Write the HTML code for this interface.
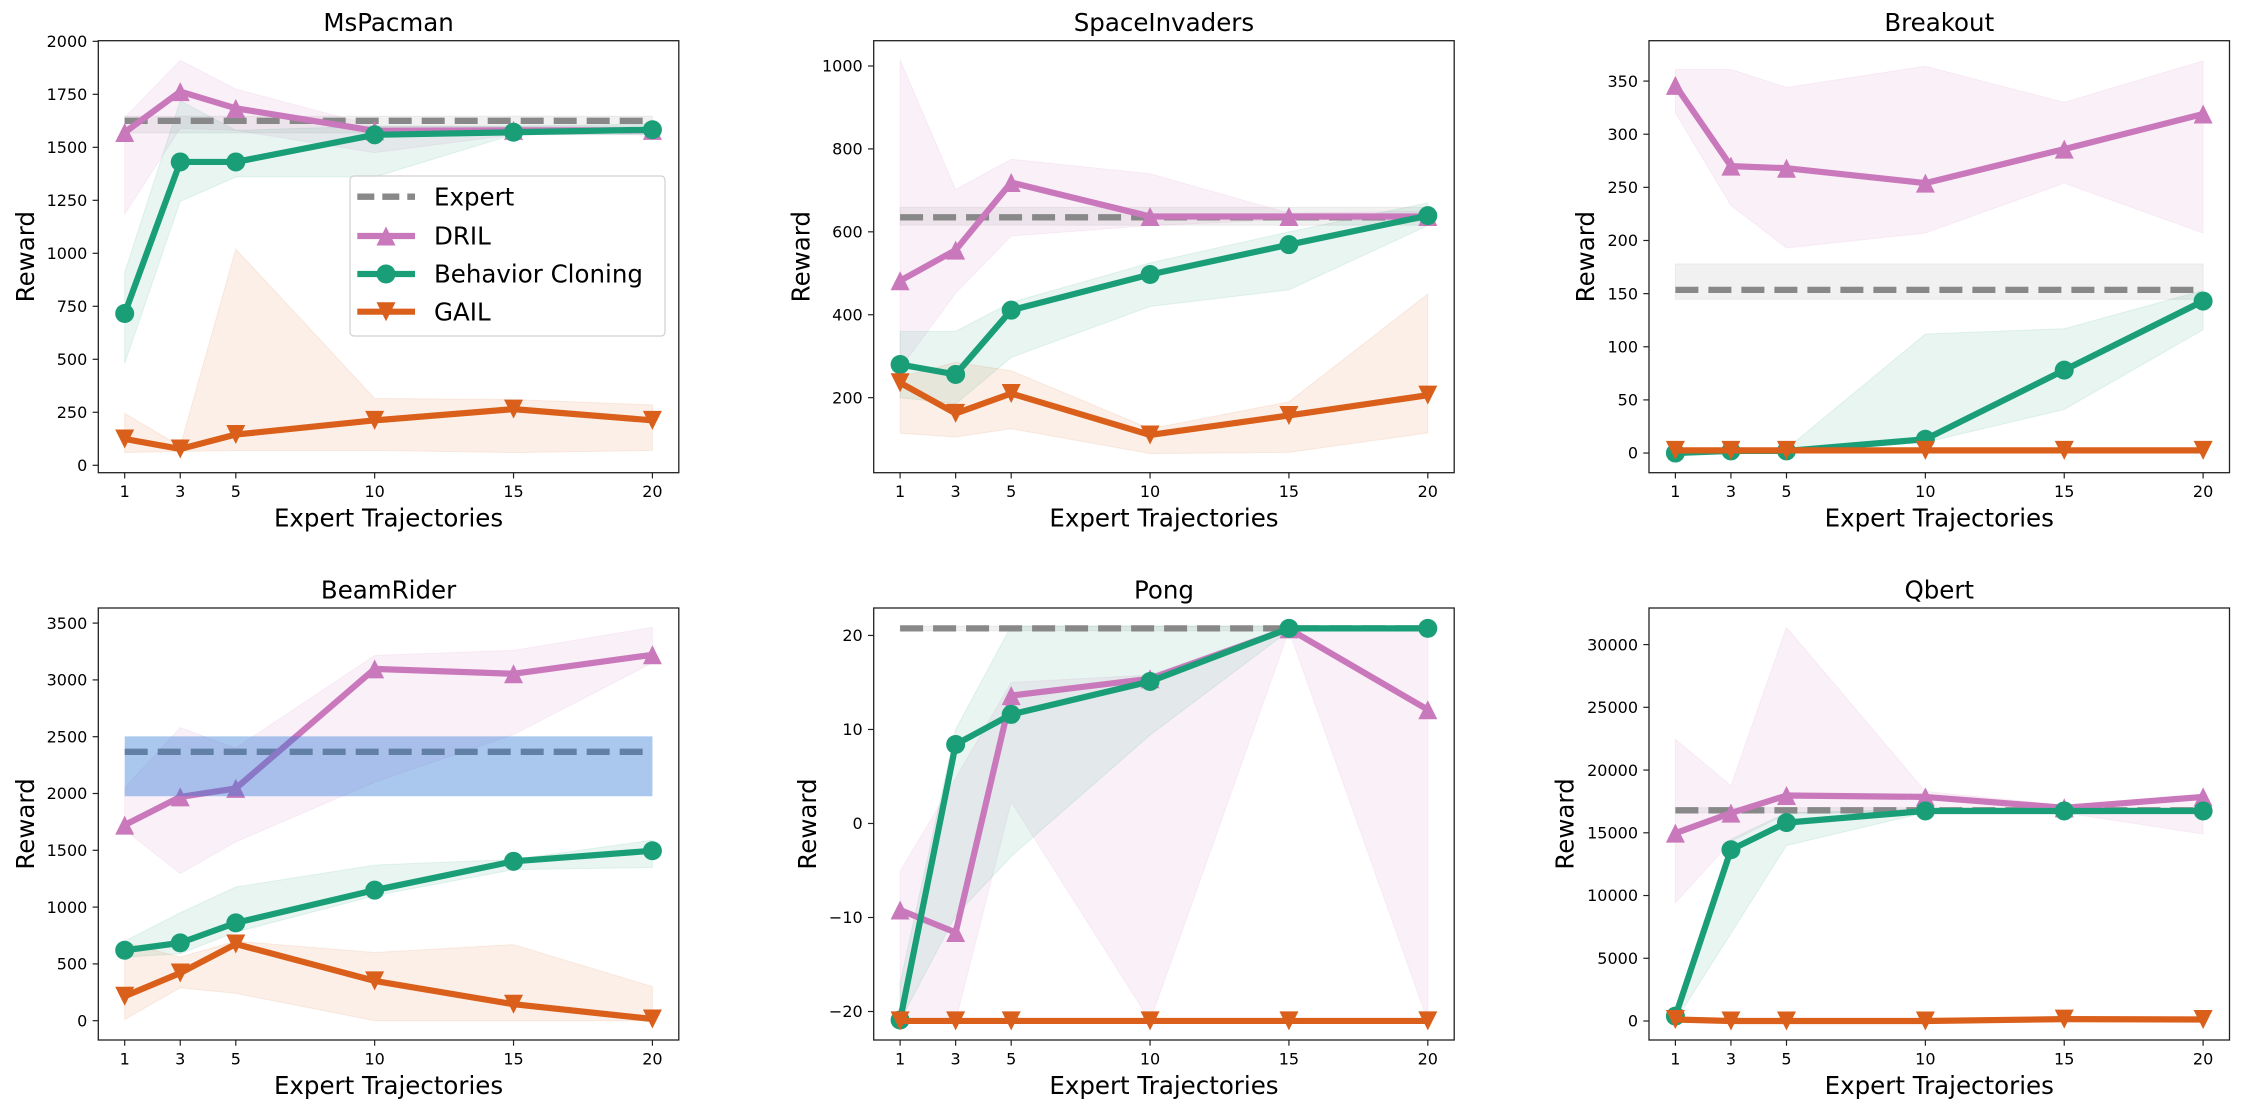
<!DOCTYPE html>
<html><head><meta charset="utf-8">
<style>
html,body{margin:0;padding:0;background:#fff;}
svg{display:block;}
text{font-family:"DejaVu Sans","Liberation Sans",sans-serif;fill:#000;}
</style></head>
<body>
<svg id="fig" width="2242" height="1112" viewBox="0 0 2242 1112"></svg>
<script>
// ---------- data ----------
const xVals=[1,3,5,10,15,20];
const xTickLabels=["1","3","5","10","15","20"];

// MsPacman
const msExpert=[1625,1568,1647];
const msDril=[1570,1763,1684,1578,1580,1580];
const msDrilHi=[1640,1910,1775,1600,1600,1595];
const msDrilLo=[1185,1590,1580,1475,1560,1560];
const msBc=[716,1431,1431,1559,1571,1583];
const msBcHi=[910,1720,1580,1600,1600,1610];
const msBcLo=[480,1245,1360,1360,1560,1560];
const msGail=[124,77,145,212,265,212];
const msGailHi=[245,90,1020,315,310,285];
const msGailLo=[60,65,70,70,60,70];
const msTicks=[0,250,500,750,1000,1250,1500,1750,2000];

// SpaceInvaders
const siExpert=[635,616,659];
const siDril=[482,556,719,637,637,637];
const siDrilHi=[1015,702,775,740,645,650];
const siDrilLo=[270,452,590,615,630,625];
const siBc=[280,256,411,497,569,639];
const siBcHi=[360,360,430,525,600,670];
const siBcLo=[200,185,297,420,460,615];
const siGail=[236,162,210,110,157,206];
const siGailHi=[250,285,265,125,190,450];
const siGailLo=[114,105,125,65,68,115];
const siTicks=[200,400,600,800,1000];

// Breakout
const brExpert=[153.5,144.7,178];
const brDril=[346,270,268,254,286,319];
const brDrilHi=[361,361,344,364,330,369];
const brDrilLo=[320,233,193,207,254,207];
const brBc=[0,2,2,13,78,143];
const brBcHi=[0,3,4,112,117,153];
const brBcLo=[-2,1,1,10,41,116];
const brGail=[2.5,2.5,2.5,2.5,2.5,2.5];
const brGailHi=[4,4,4,4,4,4];
const brGailLo=[1,1,1,1,1,1];
const brTicks=[0,50,100,150,200,250,300,350];

// BeamRider
const bmExpert=[2367,1976,2503];
const bmDril=[1722,1970,2045,3097,3054,3221];
const bmDrilHi=[2051,2580,2400,3215,3260,3463];
const bmDrilLo=[1680,1295,1574,2100,2518,3150];
const bmBc=[620,685,861,1149,1403,1496];
const bmBcHi=[700,950,1177,1370,1420,1589];
const bmBcLo=[560,589,780,1100,1330,1348];
const bmGail=[215,420,675,350,145,15];
const bmGailHi=[690,560,700,600,670,300];
const bmGailLo=[10,290,240,0,0,0];
const bmTicks=[0,500,1000,1500,2000,2500,3000,3500];

// Pong
const pgExpert=[20.75,20.5,21];
const pgDril=[-9.2,-11.6,13.6,15.4,20.7,12.1];
const pgDrilHi=[-5.1,4.8,15,15.8,21,21];
const pgDrilLo=[-21,-21,2.3,-21,20.5,-21];
const pgBc=[-20.9,8.4,11.6,15.1,20.75,20.75];
const pgBcHi=[-17,10,21,21,21,21];
const pgBcLo=[-21,-9.8,-3.5,9.4,20.5,20.5];
const pgGail=[-21,-21,-21,-21,-21,-21];
const pgGailHi=[-20.8,-20.8,-20.8,-20.8,-20.8,-20.8];
const pgGailLo=[-21.2,-21.2,-21.2,-21.2,-21.2,-21.2];
const pgTicks=[-20,-10,0,10,20];

// Qbert
const qbExpert=[16793,16600,17000];
const qbDril=[14970,16570,17970,17860,16990,17860];
const qbDrilHi=[22457,18756,31374,18300,17200,18100];
const qbDrilLo=[9419,14300,16500,16700,16600,14900];
const qbBc=[390,13650,15810,16740,16740,16740];
const qbBcHi=[600,14500,16600,16900,16900,16900];
const qbBcLo=[0,6980,13990,16600,16500,16600];
const qbGail=[120,0,0,0,150,120];
const qbGailHi=[300,200,200,200,350,300];
const qbGailLo=[0,-150,-150,-150,0,0];
const qbTicks=[0,5000,10000,15000,20000,25000,30000];

// ---------- rendering ----------
const NS="http://www.w3.org/2000/svg";
const svg=document.getElementById('fig');
const PINK="#ca78bc", GREEN="#1a9e77", ORANGE="#d95f1b", GRAY="#888888";
const W=580.5, H=432;
const LW=6.2, MR=9.5;

function mk(tag,attrs,parent){
  const e=document.createElementNS(NS,tag);
  for(const k in attrs) e.setAttribute(k,attrs[k]);
  (parent||svg).appendChild(e);
  return e;
}
function fmt(v){return v<0?"\u2212"+Math.abs(v):String(v);}

function marker(g,type,x,y,color){
  let e;
  const s=MR;
  if(type==='o'){
    e=mk('circle',{cx:x,cy:y,r:s,fill:color},g);
  }else if(type==='^'){
    e=mk('polygon',{points:`${x},${y-s} ${x-s},${y+s} ${x+s},${y+s}`,fill:color},g);
  }else{
    e=mk('polygon',{points:`${x},${y+s} ${x-s},${y-s} ${x+s},${y-s}`,fill:color},g);
  }
  return e;
}

function panel(p){
  const g=mk('g',{});
  
  
  const L=p.left,T=p.top;
  const xs=v=>L+(v-0.05)/(20.95-0.05)*W;
  const ys=v=>T+H-(v-p.ymin)/(p.ymax-p.ymin)*H;
  const clipId='clip-'+p.name;
  const cp=mk('clipPath',{id:clipId},g);
  mk('rect',{x:L,y:T,width:W,height:H},cp);
  const plot=mk('g',{'clip-path':`url(#${clipId})`},g);
  
  

  const series=[
    {key:'dril',c:PINK,m:'^',v:p.dril,hi:p.drilHi,lo:p.drilLo},
    {key:'bc',c:GREEN,m:'o',v:p.bc,hi:p.bcHi,lo:p.bcLo},
    {key:'gail',c:ORANGE,m:'v',v:p.gail,hi:p.gailHi,lo:p.gailLo}
  ];
  if(!p.blue){
    const eb=mk('rect',{x:xs(1),y:ys(p.expert[2]),width:xs(20)-xs(1),height:ys(p.expert[1])-ys(p.expert[2]),fill:GRAY,'fill-opacity':0.12,stroke:GRAY,'stroke-opacity':0.12},plot);
    
    
  }
  series.forEach(s=>{
    let pts=xVals.map((x,i)=>`${xs(x)},${ys(s.hi[i])}`);
    for(let i=xVals.length-1;i>=0;i--) pts.push(`${xs(xVals[i])},${ys(s.lo[i])}`);
    const b=mk('polygon',{points:pts.join(' '),fill:s.c,'fill-opacity':0.1,stroke:s.c,'stroke-opacity':0.1,'stroke-width':1},plot);
    
    
  });
  const el=mk('line',{x1:xs(1),x2:xs(20),y1:ys(p.expert[0]),y2:ys(p.expert[0]),stroke:GRAY,'stroke-width':6.3,'stroke-dasharray':'23 10'},plot);
  
  
  series.forEach(s=>{
    const pl=mk('polyline',{points:xVals.map((x,i)=>`${xs(x)},${ys(s.v[i])}`).join(' '),fill:'none',stroke:s.c,'stroke-width':LW,'stroke-linejoin':'round'},plot);
    
    
    xVals.forEach((x,i)=>{
      const m=marker(plot,s.m,xs(x),ys(s.v[i]),s.c);
      
      
    });
  });
  if(p.blue){
    const bb=mk('rect',{x:xs(1),y:ys(p.expert[2]),width:xs(20)-xs(1),height:ys(p.expert[1])-ys(p.expert[2]),fill:'rgb(42,117,212)','fill-opacity':0.4},plot);
    
    
  }
  const fr=mk('rect',{x:L,y:T,width:W,height:H,fill:'none',stroke:'#222','stroke-width':1.3},g);
  
  
  xVals.forEach((x,i)=>{
    mk('line',{x1:xs(x),x2:xs(x),y1:T+H,y2:T+H+5.7,stroke:'#222','stroke-width':1.2},g);
    const t=mk('text',{x:xs(x),y:T+H+24.5,'font-size':16,'text-anchor':'middle'},g);
    t.textContent=xTickLabels[i];
    
    
  });
  p.ticks.forEach(v=>{
    mk('line',{x1:L-5.7,x2:L,y1:ys(v),y2:ys(v),stroke:'#222','stroke-width':1.2},g);
    const t=mk('text',{x:L-11,y:ys(v)+5.7,'font-size':16,'text-anchor':'end'},g);
    t.textContent=fmt(v);
    
    
  });
  const ti=mk('text',{x:L+W/2,y:T-9.5,'font-size':24.5,'text-anchor':'middle'},g);
  ti.textContent=p.title;
  
  
  const xl=mk('text',{x:L+W/2,y:T+H+54,'font-size':24.5,'text-anchor':'middle'},g);
  xl.textContent='Expert Trajectories';
  
  
  const yx=L-p.ylab, yy=T+H/2;
  const yl=mk('text',{x:yx,y:yy,'font-size':24.5,'text-anchor':'middle','dominant-baseline':'central',transform:`rotate(-90 ${yx} ${yy})`},g);
  yl.textContent='Reward';
  
  
}

const T1=40.7,T2=608;
panel({name:'mspacman',title:'MsPacman',left:98.3,top:T1,ymin:-35,ymax:2003,ticks:msTicks,ylab:72.7,expert:msExpert,dril:msDril,drilHi:msDrilHi,drilLo:msDrilLo,bc:msBc,bcHi:msBcHi,bcLo:msBcLo,gail:msGail,gailHi:msGailHi,gailLo:msGailLo});
panel({name:'spaceinvaders',title:'SpaceInvaders',left:873.7,top:T1,ymin:19,ymax:1061,ticks:siTicks,ylab:72.7,expert:siExpert,dril:siDril,drilHi:siDrilHi,drilLo:siDrilLo,bc:siBc,bcHi:siBcHi,bcLo:siBcLo,gail:siGail,gailHi:siGailHi,gailLo:siGailLo});
panel({name:'breakout',title:'Breakout',left:1649,top:T1,ymin:-18.5,ymax:388,ticks:brTicks,ylab:63.4,expert:brExpert,dril:brDril,drilHi:brDrilHi,drilLo:brDrilLo,bc:brBc,bcHi:brBcHi,bcLo:brBcLo,gail:brGail,gailHi:brGailHi,gailLo:brGailLo});
panel({name:'beamrider',title:'BeamRider',left:98.3,top:T2,ymin:-170,ymax:3633,ticks:bmTicks,ylab:72.7,blue:true,expert:bmExpert,dril:bmDril,drilHi:bmDrilHi,drilLo:bmDrilLo,bc:bmBc,bcHi:bmBcHi,bcLo:bmBcLo,gail:bmGail,gailHi:bmGailHi,gailLo:bmGailLo});
panel({name:'pong',title:'Pong',left:873.7,top:T2,ymin:-23.03,ymax:22.92,ticks:pgTicks,ylab:66,expert:pgExpert,dril:pgDril,drilHi:pgDrilHi,drilLo:pgDrilLo,bc:pgBc,bcHi:pgBcHi,bcLo:pgBcLo,gail:pgGail,gailHi:pgGailHi,gailLo:pgGailLo});
panel({name:'qbert',title:'Qbert',left:1649,top:T2,ymin:-1514,ymax:32916,ticks:qbTicks,ylab:84,expert:qbExpert,dril:qbDril,drilHi:qbDrilHi,drilLo:qbDrilLo,bc:qbBc,bcHi:qbBcHi,bcLo:qbBcLo,gail:qbGail,gailHi:qbGailHi,gailLo:qbGailLo});

// legend
const lg=mk('g',{});


const lb=mk('rect',{x:350,y:176,width:315,height:160,rx:4,fill:'#fff','fill-opacity':0.85,stroke:'#d0d0d0','stroke-width':1.2},lg);


const legendLabels=['Expert','DRIL','Behavior Cloning','GAIL'];
const legendColors=[GRAY,PINK,GREEN,ORANGE];
const legendMarkers=['','^','o','v'];
const legendY=[196.7,236,274,311.7];
legendLabels.forEach((lab,i)=>{
  const y=legendY[i];
  const ln=mk('line',{x1:357.3,x2:415,y1:y,y2:y,stroke:legendColors[i],'stroke-width':i===0?6.3:LW},lg);
  if(i===0) ln.setAttribute('stroke-dasharray','17 8');
  
  
  if(legendMarkers[i]){
    const m=marker(lg,legendMarkers[i],386,y,legendColors[i]);
    
    
  }
  const t=mk('text',{x:434,y:y+8.7,'font-size':24.5},lg);
  t.textContent=lab;
  
  
});
</script>
</body></html>
